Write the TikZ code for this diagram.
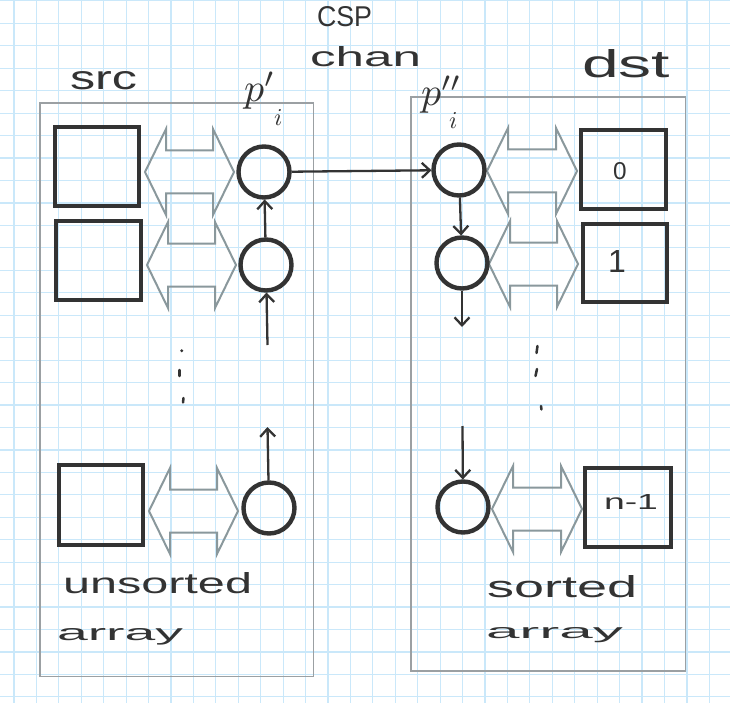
\documentclass[tikz,border=0pt]{standalone}
\usepackage{fontspec}
\setmainfont{Liberation Sans}
\usepackage{graphicx}
\usetikzlibrary{arrows.meta}
\definecolor{gridblue}{RGB}{202,232,250}
\definecolor{ink}{RGB}{51,51,51}
\definecolor{arrowgray}{RGB}{138,152,156}
\definecolor{framegray}{RGB}{155,160,163}
\newcommand\dblarr[3]{%
  \draw[dblshape] (#1,#3) -- ({#1+21},{#3-43}) -- ({#1+21},{#3-21.5}) -- ({#2-21},{#3-21.5})
    -- ({#2-21},{#3-43}) -- (#2,#3) -- ({#2-21},{#3+43}) -- ({#2-21},{#3+21.5})
    -- ({#1+21},{#3+21.5}) -- ({#1+21},{#3+43}) -- cycle;}
\begin{document}
\begin{tikzpicture}[x=1pt,y=-1pt,
  gridline/.style={draw=gridblue, line width=1.2pt},
  cellbox/.style={draw=ink, line width=4pt, rectangle, minimum width=84pt, minimum height=79pt, inner sep=0pt},
  proc/.style={draw=ink, line width=4.4pt, circle, minimum size=51pt, inner sep=0pt, outer sep=2pt},
  framebox/.style={draw=framegray, line width=1.5pt, rectangle, inner sep=0pt},
  flow/.style={draw=ink, line width=2.3pt, -{Straight Barb[length=8pt,width=15pt,line width=2.3pt]}},
  dblshape/.style={draw=arrowgray, line width=2pt, line join=miter},
  hand/.style={inner sep=0pt, outer sep=0pt, text=ink, anchor=base west},
  handc/.style={inner sep=0pt, outer sep=0pt, text=ink, anchor=base},
  tick/.style={draw=ink, line width=2.5pt, line cap=round},
]
\useasboundingbox (0,0) rectangle (730,703);
\fill[white] (0,0) rectangle (730,703);
% grid
\foreach \i in {0,...,32} \draw[gridline] ({14+22.43*\i},0) -- ({14+22.43*\i},703);
\foreach \j in {0,...,31} \draw[gridline] (0,{0.9+22.45*\j}) -- (730,{0.9+22.45*\j});
% containers
\node[framebox, minimum width=273.5pt, minimum height=573.5pt] (srcbox) at (176.75,389.75) {};
\node[framebox, minimum width=274.5pt, minimum height=574pt] (dstbox) at (548.25,384) {};
% double arrows
\dblarr{145}{234}{172}
\dblarr{147}{236}{265}
\dblarr{149}{238}{511}
\dblarr{487}{577}{171}
\dblarr{489}{578}{264}
\dblarr{492}{582}{509}
% squares
\node[cellbox] (ls1) at (97,166.5) {};
\node[cellbox, minimum width=85pt] (ls2) at (98.5,260.5) {};
\node[cellbox, minimum height=80pt] (ls3) at (101,505) {};
\node[cellbox, minimum width=85pt] (rs1) at (623.5,169.5) {};
\node[cellbox, minimum height=78pt] (rs2) at (625,263) {};
\node[cellbox, minimum width=86pt] (rs3) at (628,507.5) {};
% circles
\node[proc] (lc1) at (264,172) {};
\node[proc] (lc2) at (266,265) {};
\node[proc] (lc3) at (269,508) {};
\node[proc] (rc1) at (459,170) {};
\node[proc] (rc2) at (462,263) {};
\node[proc] (rc3) at (463,507) {};
% connectors
\coordinate (lf1) at (267.5,345);
\coordinate (lf2) at (267.5,427);
\coordinate (rf1) at (462,327);
\coordinate (rf2) at (462.5,426);
\draw[flow] (lc2) -- (lc1);
\draw[flow] (lf1) -- (lc2);
\draw[flow] (lc3) -- (lf2);
\draw[flow] (lc1) -- (rc1);
\draw[flow] (rc1) -- (rc2);
\draw[flow] (rc2) -- (rf1);
\draw[flow] (rf2) -- (rc3);
% vertical ellipses
\fill[ink] (181.7,350.7) circle (1.6pt);
\draw[tick] (179.5,370) -- (179.5,376);
\draw[tick] (183.5,398) -- (183,402.5);
\draw[tick] (537.5,346) -- (536.5,353);
\draw[tick] (537,369) -- (535.5,376);
\draw[tick] (541,406) -- (541.5,409.5);
% labels
\node[hand] (tsrc) at (70,90) {\resizebox{67pt}{18pt}{src}};
\node[hand] (tdst) at (582,78) {\resizebox{88pt}{28pt}{dst}};
\node[hand] (tcsp) at (317,27) {\resizebox{55pt}{20pt}{CSP}};
\node[hand] (tchan) at (310,67) {\resizebox{111pt}{20pt}{chan}};
\node[hand] (tuns) at (63,593) {\resizebox{189pt}{21pt}{unsorted}};
\node[hand] (tarrl) at (57,640) {\resizebox{126pt}{12pt}{array}};
\node[hand] (tsor) at (487,597) {\resizebox{150pt}{22pt}{sorted}};
\node[hand] (tarrr) at (486,638) {\resizebox{137pt}{11pt}{array}};
\node[handc] (t0) at (620,180) {\resizebox{!}{17pt}{0}};
\node[handc] (t1) at (617,272) {\resizebox{!}{22pt}{1}};
\node[hand] (tn) at (604,509) {\resizebox{54pt}{15pt}{n-1}};
\node[hand] (tp1) at (244,102) {\resizebox{!}{30pt}{$p'$}};
\node[hand] (ti1) at (274,126) {\resizebox{!}{16pt}{$i$}};
\node[hand] (tp2) at (421,106) {\resizebox{!}{30pt}{$p''$}};
\node[hand] (ti2) at (449,129) {\resizebox{!}{16pt}{$i$}};
\end{tikzpicture}
\end{document}
